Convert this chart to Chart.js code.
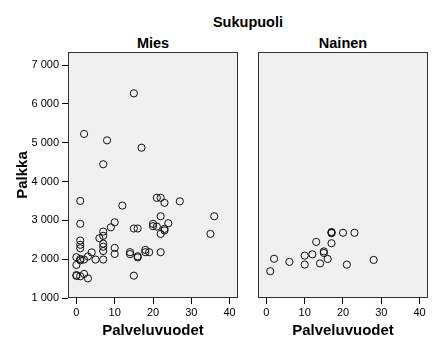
<!DOCTYPE html>
<html>
<head>
<meta charset="utf-8">
<script src="https://cdn.jsdelivr.net/npm/chart.js@4/dist/chart.umd.min.js"></script>
<style>
  body { margin: 0; width: 437px; height: 350px; background: #fff; overflow: hidden; position: relative; }
  .lbl { position: absolute; font-family: "Liberation Sans", Arial, sans-serif; font-weight: bold; color: #000; white-space: nowrap; transform: translate(-50%, -50%); }
  canvas { position: absolute; top: 0; }
</style>
</head>
<body>
<div class="lbl" style="left:248px; top:22px; font-size:14.5px;">Sukupuoli</div>
<div class="lbl" style="left:153px; top:43px; font-size:14.5px;">Mies</div>
<div class="lbl" style="left:343px; top:43px; font-size:14.5px;">Nainen</div>
<canvas id="mies" style="left:0px;" width="248" height="350"></canvas>
<canvas id="nainen" style="left:248px;" width="189" height="350"></canvas>
<script>
// palveluvuodet (years) and palkka (pay) per panel
const miesYears = [15, 2, 8, 17, 7, 1, 12, 21, 22, 23, 27, 22, 36, 1, 9, 10, 15, 16, 20, 20,
  21, 24, 23, 23, 22, 35, 1, 1, 1, 6, 7, 7, 7, 7, 7, 10, 10, 14, 14, 16,
  16, 18, 18, 19, 22, 15, 0, 0, 1, 1, 2, 3, 4, 5, 7, 0, 0, 1, 2, 3];
const miesPay = [6270, 5225, 5060, 4870, 4445, 3500, 3380, 3580, 3580, 3450, 3490, 3105, 3105, 2910, 2820, 2950, 2790, 2790, 2910, 2850,
  2840, 2925, 2780, 2740, 2650, 2650, 2480, 2370, 2280, 2540, 2710, 2600, 2400, 2320, 2210, 2290, 2135, 2180, 2130, 2075,
  2045, 2240, 2180, 2180, 2180, 1575, 2050, 1850, 2005, 1970, 1990, 2070, 2175, 1990, 1990, 1590, 1570, 1560, 1620, 1505];

const naisYears = [1, 2, 6, 10, 10, 12, 13, 14, 15, 15, 16, 17, 17, 17, 17, 20, 23, 21, 28];
const naisPay = [1690, 2010, 1930, 2090, 1860, 2125, 2445, 1890, 2200, 2160, 2005, 2700, 2680, 2670, 2410, 2680, 2680, 1860, 1980];

const xTicks = [0, 10, 20, 30, 40];
const yTicks = [1000, 2000, 3000, 4000, 5000, 6000, 7000];

const xMin = -2.2, xMax = 42.2;
const yMin = 1000, yMax = 7335;

const fontFam = '"Liberation Sans", Arial, sans-serif';

const fmt = (v) => String(v).replace(/\B(?=(\d{3})+(?!\d))/g, ' ');

const toPoints = (xs, ys) => xs.map((x, i) => ({ x: x, y: ys[i] }));

// grey panel background and dark frame
const panelFrame = {
  id: 'panelFrame',
  beforeDatasetsDraw(chart) {
    const a = chart.chartArea;
    const ctx = chart.ctx;
    ctx.save();
    ctx.fillStyle = '#f0f0f0';
    ctx.fillRect(a.left, a.top, a.right - a.left, a.bottom - a.top);
    ctx.restore();
  },
  afterDraw(chart) {
    const a = chart.chartArea;
    const ctx = chart.ctx;
    ctx.save();
    ctx.strokeStyle = '#333';
    ctx.lineWidth = 1;
    ctx.strokeRect(Math.round(a.left) + 0.5, Math.round(a.top) + 0.5,
      Math.round(a.right - a.left) - 1, Math.round(a.bottom - a.top) - 1);
    ctx.restore();
  }
};

function makeChart(id, points, showY, pad) {
  return new Chart(document.getElementById(id), {
    type: 'scatter',
    data: {
      datasets: [{
        data: points,
        pointStyle: 'circle',
        pointRadius: 3.6,
        pointBorderWidth: 1,
        borderColor: '#111',
        backgroundColor: 'rgba(0,0,0,0)',
        pointHoverRadius: 3.6
      }]
    },
    options: {
      responsive: false,
      animation: false,
      events: [],
      layout: { padding: pad },
      plugins: { legend: { display: false }, tooltip: { enabled: false } },
      scales: {
        x: {
          type: 'linear',
          min: xMin,
          max: xMax,
          afterBuildTicks: (s) => { s.ticks = xTicks.map((v) => ({ value: v })); },
          afterFit: (s) => { s.height = 52; },
          border: { display: false },
          grid: { drawOnChartArea: false, drawTicks: true, tickLength: 6, color: '#000' },
          ticks: { color: '#000', padding: 2, maxRotation: 0, font: { family: fontFam, size: 11 } },
          title: { display: true, text: 'Palveluvuodet', color: '#000', padding: { top: 0, bottom: 10 },
            font: { family: fontFam, size: 15, weight: 'bold' } }
        },
        y: {
          type: 'linear',
          display: showY,
          min: yMin,
          max: yMax,
          afterBuildTicks: (s) => { s.ticks = yTicks.map((v) => ({ value: v })); },
          afterFit: (s) => { s.width = showY ? 68 : 0; },
          border: { display: false },
          grid: { drawOnChartArea: false, drawTicks: true, tickLength: 6, color: '#000' },
          ticks: { color: '#000', padding: 3, callback: (v) => fmt(v), font: { family: fontFam, size: 11 } },
          title: { display: true, text: 'Palkka', color: '#000', padding: { top: 14, bottom: 0 },
            font: { family: fontFam, size: 15, weight: 'bold' } }
        }
      }
    },
    plugins: [panelFrame]
  });
}

makeChart('mies', toPoints(miesYears, miesPay), true, { top: 52, right: 10, bottom: 0, left: 0 });
makeChart('nainen', toPoints(naisYears, naisPay), false, { top: 52, right: 9, bottom: 0, left: 10 });
</script>
</body>
</html>
